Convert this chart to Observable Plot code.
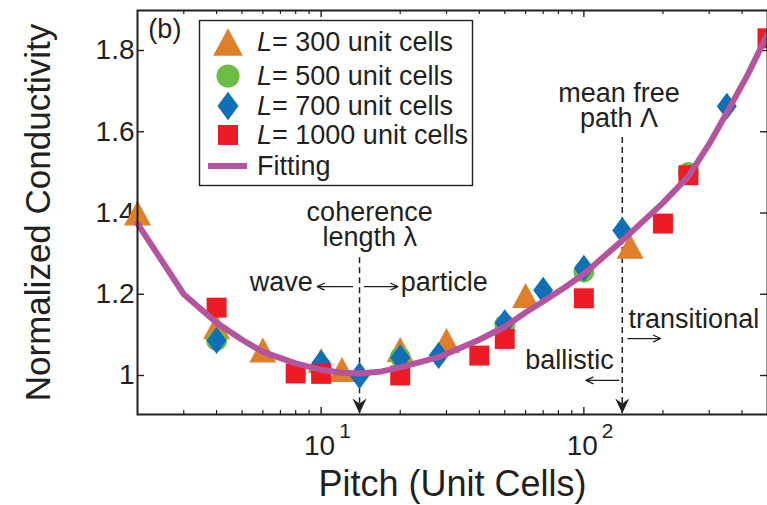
<!DOCTYPE html>
<html><head><meta charset="utf-8">
<script src="https://cdn.jsdelivr.net/npm/d3@7"></script>
<script src="https://cdn.jsdelivr.net/npm/@observablehq/plot@0.6"></script>
<style>
body{margin:0;background:#fff;}
#wrap{position:relative;width:767px;height:505px;overflow:hidden;}
#legend{position:absolute;left:0;top:0;pointer-events:none;}
</style></head><body><div id="wrap"></div>
<script>
// ---- data ----
const seriesLabels = ["300 unit cells", "500 unit cells", "700 unit cells", "1000 unit cells", "Fitting"];
const pitch300 = [2, 4, 6, 10, 12, 20, 30, 60, 150];
const cond300  = [1.40, 1.12, 1.063, 1.037, 1.015, 1.064, 1.086, 1.197, 1.318];
const pitch500 = [4, 10, 20, 50, 100, 250];
const cond500  = [1.086, 1.008, 1.045, 1.125, 1.255, 1.50];
const pitch700 = [4, 10, 14, 20, 28, 50, 70, 100, 140, 350];
const cond700  = [1.086, 1.03, 1.0, 1.044, 1.049, 1.13, 1.21, 1.264, 1.357, 1.663];
const pitch1000 = [4, 8, 10, 20, 40, 50, 100, 200, 250, 500];
const cond1000  = [1.167, 1.005, 1.004, 1.0, 1.049, 1.09, 1.19, 1.374, 1.493, 1.83];
const fitPitch = [2, 3, 4, 5, 6, 8, 10, 12, 14, 17, 20, 28, 40, 50, 60, 70, 85, 100, 140, 200, 250, 300, 350, 420, 500];
const fitCond  = [1.374, 1.20, 1.13, 1.088, 1.058, 1.03, 1.014, 1.007, 1.005, 1.01, 1.02, 1.045, 1.088, 1.12, 1.155, 1.182, 1.218, 1.25, 1.332, 1.425, 1.49, 1.57, 1.647, 1.74, 1.84];
const xMajorTicks = [10, 100];
const xMinorTicks = [3, 4, 5, 6, 7, 8, 9, 20, 30, 40, 50, 60, 70, 80, 90, 200, 300, 400];
const yTicks = [1, 1.2, 1.4, 1.6, 1.8];
const xDomain = [2, 500];
const yDomain = [0.904, 1.8985];
// markers: coherence length and mean free path
const markerPitch = [14, 140];
const markerTop   = [1.29, 1.586];
// annotations
const labelsMiddle = [
  {x: 15.3, y: 1.320, t: "coherence\nlength λ"},
  {x: 136, y: 1.611, t: "mean free\npath Λ"}];
const labelsStart = [
  {x: 20.1, y: 1.209, t: "particle"}, {x: 148, y: 1.116, t: "transitional"}, {x: 2.2, y: 1.832, t: "(b)"}];
const labelsEnd = [
  {x: 9.3, y: 1.209, t: "wave"}, {x: 130, y: 1.017, t: "ballistic"}];
const arrows = [
  {x1: 13.2, x2: 9.66, y: 1.219}, {x1: 14.6, x2: 19.6, y: 1.219},
  {x1: 147, x2: 196, y: 1.091}, {x1: 135.9, x2: 101.8, y: 0.988}];

// ---- styles ----
const FONT = "'Liberation Sans', Arial, Helvetica, sans-serif";
const INK = "#231f20";
const colors = ["#e07f2a", "#6cbd45", "#0f6fb7", "#ed1c24", "#b4549f"];

const zip = (xs, ys) => xs.map((x, i) => ({x, y: ys[i]}));
function sym(fn) { return {draw(ctx, size) { const s = Math.sqrt(size / Math.PI) / 10; fn(ctx, s); }}; }
const triSym = sym((c, s) => { c.moveTo(0, -12.5*s); c.lineTo(13.5*s, 12.5*s); c.lineTo(-13.5*s, 12.5*s); c.closePath(); });
const circSym = sym((c, s) => { c.moveTo(10.5*s, 0); c.arc(0, 0, 10.5*s, 0, 2*Math.PI); });
const diaSym = sym((c, s) => { c.moveTo(0, -13.5*s); c.lineTo(10*s, 0); c.lineTo(0, 13.5*s); c.lineTo(-10*s, 0); c.closePath(); });
const sqSym = sym((c, s) => { c.rect(-10*s, -10*s, 20*s, 20*s); });
const headSym = sym((c, s) => { c.moveTo(0, 0); c.lineTo(-7*s, -15*s); c.lineTo(0, -10*s); c.lineTo(7*s, -15*s); c.closePath(); });
const symbols = [triSym, circSym, diaSym, sqSym];

const W = 767, H = 505, mL = 137, mR = 0, mT = 10, mB = 91;
const pw = W - mL - mR, ph = H - mT - mB;

const plot = Plot.plot({
  width: W, height: H, marginLeft: mL, marginRight: mR, marginTop: mT, marginBottom: mB,
  x: {type: "log", domain: xDomain, axis: null},
  y: {domain: yDomain, axis: null},
  style: {fontFamily: FONT, background: "#fff", color: INK, overflow: "visible"},
  marks: [
    // ticks (inward)
    Plot.ruleX(xMinorTicks, {x: d => d, insetTop: ph - 4, stroke: INK, strokeWidth: 1.2}),
    Plot.ruleX(xMinorTicks, {x: d => d, insetBottom: ph - 4, stroke: INK, strokeWidth: 1.2}),
    Plot.ruleX(xMajorTicks, {x: d => d, insetTop: ph - 7, stroke: INK, strokeWidth: 1.4}),
    Plot.ruleX(xMajorTicks, {x: d => d, insetBottom: ph - 7, stroke: INK, strokeWidth: 1.4}),
    Plot.ruleY(yTicks, {y: d => d, insetRight: pw - 7, stroke: INK, strokeWidth: 1.4}),
    Plot.ruleY(yTicks, {y: d => d, insetLeft: pw - 7, stroke: INK, strokeWidth: 1.4}),
    // tick labels
    Plot.text(yTicks, {y: d => d, frameAnchor: "left", text: d => d === 1 ? "1" : d.toFixed(1),
      textAnchor: "end", dx: -3, fontSize: 28, fill: INK}),
    Plot.text(xMajorTicks, {x: d => d, frameAnchor: "bottom", text: () => "10", textAnchor: "end",
      lineAnchor: "bottom", dx: 14, dy: 40, fontSize: 28, fill: INK}),
    Plot.text(xMajorTicks, {x: d => d, frameAnchor: "bottom", text: d => String(Math.round(Math.log10(d))),
      textAnchor: "start", lineAnchor: "bottom", dx: 18, dy: 23, fontSize: 21, fill: INK}),
    // axis labels
    Plot.text(["Pitch (Unit Cells)"], {frameAnchor: "bottom", text: d => d, textAnchor: "middle",
      lineAnchor: "bottom", dy: 81, fontSize: 36, fill: INK}),
    Plot.text(["Normalized Conductivity"], {frameAnchor: "left", text: d => d, rotate: -90,
      textAnchor: "middle", lineAnchor: "bottom", dx: -88, fontSize: 35, fill: INK}),
    // dashed marker lines
    Plot.ruleX(markerPitch.map((x, i) => ({x, y1: markerTop[i]})), {x: "x", y1: "y1", y2: yDomain[0],
      stroke: INK, strokeWidth: 1.5, strokeDasharray: "6,4"}),
    // data
    ...[[pitch300, cond300], [pitch500, cond500], [pitch700, cond700], [pitch1000, cond1000]].map(([px, cy], i) =>
      Plot.dot(zip(px, cy), {x: "x", y: "y", symbol: symbols[i], r: 10, fill: colors[i], stroke: "none"})),
    Plot.line(zip(fitPitch, fitCond), {x: "x", y: "y", stroke: colors[4], strokeWidth: 6}),
    Plot.dot(markerPitch, {x: d => d, frameAnchor: "bottom", symbol: headSym, r: 10, fill: INK, stroke: "none", dy: -1}),
    // annotations
    Plot.arrow(arrows, {x1: "x1", x2: "x2", y1: "y", y2: "y", stroke: INK, strokeWidth: 1.3, headLength: 9, headAngle: 50}),
    Plot.text(labelsMiddle, {x: "x", y: "y", text: "t", textAnchor: "middle", lineAnchor: "bottom", lineHeight: 0.92, fontSize: 27, fill: INK}),
    Plot.text(labelsStart, {x: "x", y: "y", text: "t", textAnchor: "start", lineAnchor: "bottom", fontSize: 27, fill: INK}),
    Plot.text(labelsEnd, {x: "x", y: "y", text: "t", textAnchor: "end", lineAnchor: "bottom", fontSize: 27, fill: INK}),
    Plot.frame({stroke: INK, strokeWidth: 2})
  ]
});
const wrap = document.getElementById("wrap");
wrap.appendChild(plot);

// ---- legend (overlay) ----
const leg = d3.select(wrap).append("svg").attr("id", "legend").attr("width", W).attr("height", H)
  .style("font-family", FONT);
leg.append("rect").attr("x", 199.5).attr("y", 20.5).attr("width", 273).attr("height", 165)
  .attr("fill", "#fff").attr("stroke", INK).attr("stroke-width", 1.4);
const rowY = [42, 76, 106, 135, 166];
const legR = [11, 11, 10.5, 10];
seriesLabels.forEach((lab, i) => {
  if (i < 4) {
    leg.append("path").attr("transform", `translate(228,${rowY[i]})`)
      .attr("d", d3.symbol(symbols[i], Math.PI * legR[i] * legR[i])()).attr("fill", colors[i]);
    const t = leg.append("text").attr("x", 257).attr("y", rowY[i] + 8.5).attr("font-size", 27).attr("fill", INK);
    t.append("tspan").attr("font-style", "italic").text("L");
    t.append("tspan").text("= " + lab);
  } else {
    leg.append("line").attr("x1", 208).attr("x2", 247).attr("y1", rowY[i]).attr("y2", rowY[i])
      .attr("stroke", colors[4]).attr("stroke-width", 6);
    leg.append("text").attr("x", 257).attr("y", rowY[i] + 8.5).attr("font-size", 27).attr("fill", INK).text(lab);
  }
});
</script></body></html>
